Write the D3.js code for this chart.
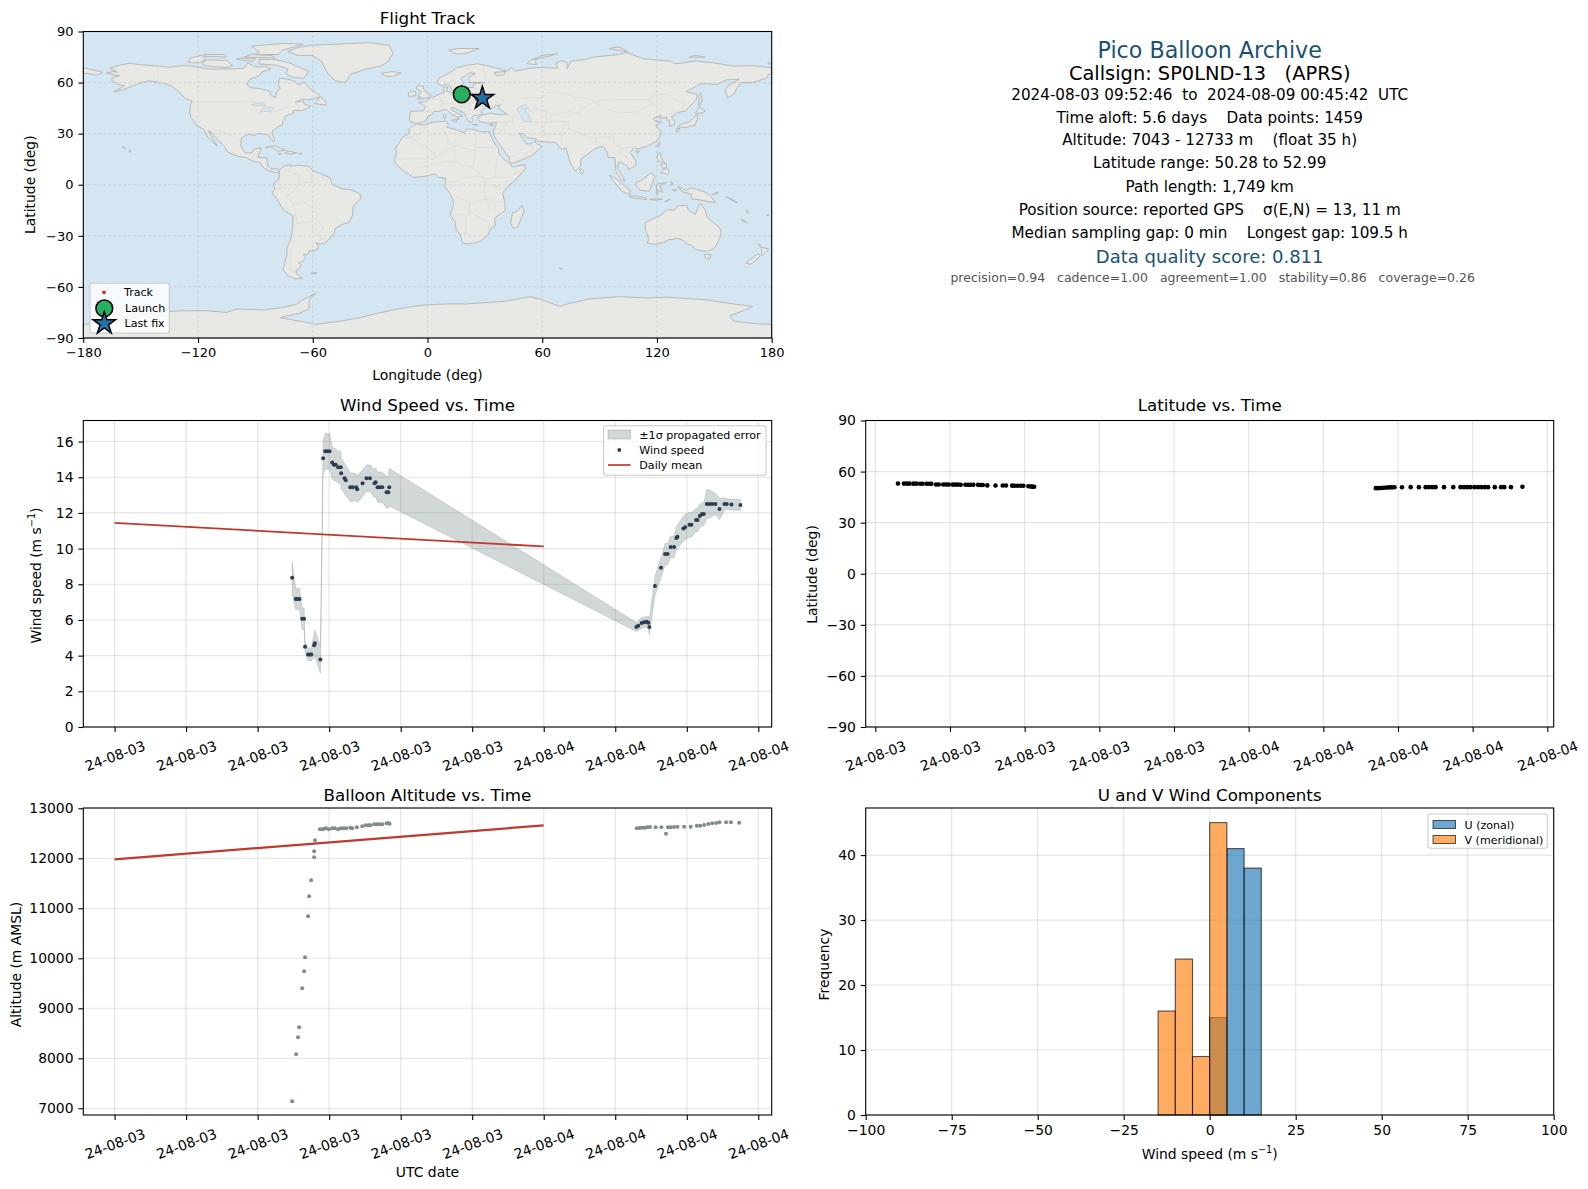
<!DOCTYPE html>
<html>
<head>
<meta charset="utf-8">
<script src="https://cdn.jsdelivr.net/npm/d3@7"></script>
<style>
  html, body { margin: 0; padding: 0; background: #fff; }
  svg { display: block; }
  text { font-family: "DejaVu Sans", sans-serif; fill: #000; }
</style>
</head>
<body>
<svg id="chart"></svg>
<script>
// ---- data (hours are counted from 24-08-03 00:00 UTC) ----
const windHours = [9.93,10.13,10.22,10.34,10.49,10.6,10.65,10.82,10.92,11,11.16,11.2,11.51,11.66,11.78,11.89,12.02,12.17,12.26,12.37,12.5,12.65,12.67,12.86,12.93,13.18,13.31,13.51,13.57,13.87,14.09,14.28,14.54,14.6,14.71,14.84,14.97,15.21,15.31,15.36,
  29.18,29.29,29.48,29.63,29.76,29.85,29.91,30.22,30.56,30.79,30.93,31.1,31.29,31.42,31.48,31.81,31.91,32.15,32.26,32.52,32.6,32.73,32.84,32.95,33.12,33.27,33.42,33.6,33.83,34.11,34.24,34.5,35];
const windSpeed = [8.36,7.18,7.18,7.18,6.07,6.07,4.5,4.07,4.07,4.07,4.58,4.69,3.78,15.06,15.45,15.45,15.45,14.82,14.7,14.7,14.56,14.56,14.22,13.94,13.83,13.44,13.44,13.44,13.33,13.66,13.94,13.94,13.66,13.72,13.44,13.44,13.44,13.16,13.16,13.44,
  5.61,5.68,5.83,5.87,5.9,5.85,5.61,7.91,8.92,9.7,9.7,10.09,10.09,10.6,10.67,11.12,11.2,11.33,11.33,11.6,11.6,11.83,11.93,11.94,12.5,12.5,12.5,12.5,12.22,12.5,12.5,12.47,12.45];
const windSigma = [0.87,0.6,0.6,0.6,0.6,0.6,0.3,0.35,0.35,0.35,0.7,0.75,0.75,0.95,1,1,1,0.9,0.9,0.9,0.9,0.9,0.85,0.85,0.85,0.8,0.8,0.75,0.75,0.75,0.75,0.75,0.8,0.8,0.85,0.85,0.85,0.9,0.9,1.05,
  0.25,0.25,0.3,0.3,0.3,0.35,0.45,0.55,0.55,0.6,0.6,0.6,0.6,0.65,0.65,0.7,0.7,0.7,0.7,0.65,0.65,0.65,0.65,0.65,0.8,0.8,0.7,0.6,0.6,0.35,0.3,0.3,0.3];
const dailyHours = [0, 24];
const dailyWind = [11.44, 10.12];
const dailyAlt = [11978, 12659];

const latHours = [9.91,10.15,10.26,10.37,10.53,10.64,10.8,10.9,11.06,11.17,11.25,11.44,11.55,11.73,11.84,11.95,12.11,12.22,12.32,12.43,12.62,12.73,12.83,12.94,13.13,13.24,13.32,13.5,13.83,14.12,14.25,14.5,14.6,14.71,14.84,14.95,15.15,15.25,15.31,15.38,
  29.11,29.19,29.27,29.35,29.43,29.54,29.65,29.76,29.86,30.16,30.51,30.84,31.11,31.24,31.38,31.51,31.85,32.22,32.51,32.65,32.78,32.92,33.08,33.22,33.35,33.49,33.62,33.89,34.14,34.27,34.54,35];
const latValues = [52.99,52.95,52.95,52.9,52.9,52.9,52.85,52.85,52.85,52.85,52.8,52.4,52.4,52.4,52.4,52.35,52.35,52.35,52.35,52.3,52.3,52.3,52.3,52.25,52.2,52.15,52.1,51.9,51.85,51.8,51.8,51.75,51.7,51.7,51.7,51.65,51.4,51.25,51.15,51.1,
  50.28,50.3,50.35,50.4,50.5,50.6,50.7,50.75,50.8,50.8,50.85,50.85,50.85,50.85,50.85,50.85,50.85,50.85,50.85,50.85,50.85,50.85,50.85,50.85,50.85,50.85,50.85,50.85,50.85,50.85,50.85,51.1];

const altHours = [9.93,10.15,10.26,10.32,10.49,10.6,10.65,10.82,10.88,10.99,11.16,11.16,11.21,11.48,11.61,11.72,11.83,11.98,12.17,12.32,12.5,12.65,12.8,12.95,13.18,13.29,13.55,13.85,14.04,14.19,14.3,14.52,14.67,14.82,14.97,15.21,15.31,15.38,
  29.2,29.35,29.5,29.64,29.79,29.94,30.26,30.58,30.84,30.95,31.1,31.29,31.48,31.85,32.22,32.56,32.75,32.97,33.2,33.42,33.64,33.83,34.2,34.47,34.93];
const altValues = [7140,8080,8420,8620,9400,9740,10020,10840,11240,11560,12020,12140,12360,12580,12580,12590,12600,12580,12600,12600,12580,12600,12600,12600,12613,12600,12620,12640,12660,12660,12660,12680,12680,12680,12680,12700,12700,12690,
  12600,12607,12613,12613,12620,12627,12620,12620,12490,12620,12620,12627,12633,12633,12633,12653,12653,12667,12687,12700,12707,12720,12720,12720,12713];

const binEdges = [-15,-10,-5,0,5,10,15];
const uCounts = [0,0,0,15,41,38];
const vCounts = [16,24,9,45,0,0];

const windTickHours = [0,4,8,12,16,20,24,28,32,36];
const latTickHours = [9,12,15,18,21,24,27,30,33,36];
const windTickLabels = ["24-08-03","24-08-03","24-08-03","24-08-03","24-08-03","24-08-03","24-08-04","24-08-04","24-08-04","24-08-04"];
const latTickLabels = ["24-08-03","24-08-03","24-08-03","24-08-03","24-08-03","24-08-04","24-08-04","24-08-04","24-08-04","24-08-04"];

const trackLon = [18.4,19,19.8,20.5,25.6,26,26.5,27.2,28,28.7];
const trackLat = [52.9,52.5,52.3,51.9,50.3,50.5,50.7,50.8,50.8,50.8];
const launchPoint = [17.9, 53.1];
const lastFix = [28.7, 50.8];

// coastlines as [lon, lat]
const northAmerica = [[-168,65.5],[-164,66.5],[-162,66],[-166,68.5],[-160,70.5],[-156,71.3],[-150,70.5],[-141,69.7],[-135,69],[-128,70],[-124,69.8],[-115,68],[-108,68],[-102,68],[-96,68.5],[-94,71.5],[-90,69],[-85,69.5],[-82,68],[-87,66],[-88,64],[-93,62],[-94.5,59],[-92.5,57],[-88,56.5],[-82.5,55],[-82,52.5],[-79.5,51.2],[-79,54.5],[-77,56.5],[-78,59],[-77.5,62.5],[-73,62],[-70,61],[-67,58.5],[-64.5,60.3],[-61.5,56.5],[-57,53],[-56,51.8],[-60,50.2],[-66,50.2],[-69,48.5],[-65,49.2],[-64.5,47.5],[-61,46],[-65.5,43.6],[-70,43.7],[-70.5,41.7],[-74,40.5],[-75.5,37.5],[-76,35],[-78,34],[-81,32],[-81.3,30],[-80,26.8],[-80.5,25.2],[-82,26.8],[-83,29],[-85,29.7],[-89,30.2],[-90,29.2],[-94,29.5],[-97.3,27.5],[-97.7,23],[-95.5,18.8],[-92,18.6],[-90.5,21],[-87,21.5],[-88,18],[-88.8,16],[-84,15.8],[-83.5,11],[-81.5,9],[-79.5,9.5],[-77.3,8.5],[-78,7.2],[-80.5,7.3],[-83,8.3],[-85.7,10],[-87.5,13],[-91.5,14],[-95,16],[-99,16.7],[-105,19.5],[-105.7,22],[-109,25.7],[-112.5,30],[-114.7,31.7],[-112.5,27.5],[-110,23],[-112,24.8],[-115,28],[-117,32.5],[-120.5,34.5],[-123.8,39.5],[-124.3,43],[-124,47],[-123,49],[-127,51],[-130,54.5],[-134,58],[-139,60],[-146,61],[-151,59.5],[-154,58],[-160,55.5],[-164,54.6],[-158.5,58],[-162,59],[-165,61],[-165,63],[-161,64]];
const southAmerica = [[-77.3,8.5],[-75.5,10.8],[-72,12],[-71.5,10.8],[-68,11.5],[-62,10.7],[-60,8.3],[-55,6],[-51,4.2],[-50,0.5],[-44.5,-2.5],[-40,-2.9],[-35.2,-5.5],[-34.9,-8],[-39,-13],[-39.2,-18],[-41,-22],[-45,-23.5],[-48.5,-26],[-48.7,-28.5],[-52,-32.5],[-54,-34.8],[-57,-34.5],[-58.4,-34],[-57,-36.5],[-57.6,-38.2],[-62,-39],[-62.5,-41],[-65,-41],[-63.7,-42.7],[-65.3,-45],[-67.5,-46],[-65.8,-47.5],[-68.8,-50.5],[-68.4,-52.5],[-65.2,-54.8],[-69,-55.3],[-73,-53.5],[-75.5,-50],[-74.5,-45],[-73.5,-41],[-73.5,-37],[-71.5,-32],[-70.5,-25],[-70.3,-18.3],[-75.5,-14.5],[-79,-8],[-81.3,-5],[-80,-2.5],[-80.5,0.5],[-78.5,2],[-77.5,4],[-77.5,7]];
const africa = [[-5.8,35.8],[-2,35],[3,36.8],[10,37.3],[11,35],[10.2,33.8],[15,32.3],[19.5,30.4],[20.2,32.7],[23,32.7],[29,31],[32.3,31.2],[32.6,29.8],[34,26.5],[35.5,23.8],[37.2,21],[37.4,18.5],[39.5,15.3],[43.2,12.3],[44.5,10.5],[51.2,11.8],[50.8,9],[47.5,4.5],[42,-1],[39.3,-5],[40.5,-11],[40.7,-15],[35,-19.8],[35.5,-24],[32.8,-26],[32,-29],[28,-33],[25,-34],[20,-34.8],[18.3,-34],[17,-29],[15,-26.5],[14.5,-22],[11.8,-17.5],[13.7,-11],[12.2,-6],[9,-1],[9.6,3.8],[6,4.3],[4,6.3],[-2,4.8],[-7.5,4.4],[-13,8.5],[-16.7,12.5],[-17.4,14.7],[-16,19],[-17,21],[-13,27.7],[-9.8,30],[-9.5,33]];
const eurasia = [[-5.6,36],[-9,37],[-9.5,38.8],[-8.8,43.2],[-2,43.4],[-1.2,46],[-4.7,48.4],[-1.5,48.7],[1.5,50.8],[4,52],[7,53.5],[8.7,54],[8.2,57],[10.5,57.7],[10,55],[12,54.2],[14.3,53.9],[18.5,54.7],[21,55],[21,57],[24,57.2],[24,59.3],[30,60],[25,60.2],[22,60],[21.5,63],[25,65.3],[22,65.7],[17.5,62.5],[18.8,60],[16.5,57],[14.3,55.5],[13,55.4],[11.5,58.5],[10.5,59.3],[7,58],[5,60],[6,62.5],[12,66],[15,68.5],[20,70],[26,71],[31,70],[41,67],[40,64.7],[36,64],[35,66],[41,66.5],[44,68.5],[46,66.8],[54,68.5],[60,68.8],[68,68.5],[67,71],[70,73],[73,71.5],[73,68],[75,72.5],[82,73.5],[87,75],[100,76.5],[104,77.7],[113,74],[127,72.5],[130,71],[140,72.7],[150,71.5],[160,69.7],[170,69.9],[178,69],[180,68.7],[180,65],[178,64.5],[177,62.5],[170,60],[164,60],[162,57],[160,53],[156.8,51],[155.7,56],[157,58],[163,62],[156,61.5],[152,59],[143,59.3],[135.3,54.7],[141,53],[140.5,50],[135,43.5],[130.7,42.3],[127.5,39.8],[129.4,37],[129,35.1],[126.5,34.4],[126.7,37.7],[125,38],[125,39.6],[121.3,39],[122,40.7],[118,39],[119,37.2],[122.5,37],[119.3,35],[122,31],[121.8,28.5],[119,25],[114,22.3],[110,21],[108,21.7],[106,19],[109,14],[109,11.5],[105,8.7],[105,10.5],[101,13.5],[100,13.4],[99.3,10],[103.5,2],[101,3],[98.5,8],[98,16],[94.5,16],[94,19],[91.8,22.5],[89,21.8],[86.8,20.5],[82,16.5],[80.2,15],[80,11],[77.5,8],[75,12],[73,19],[72.5,21.5],[70,20.8],[68.8,22.5],[67,24.8],[61.5,25.1],[57.5,25.7],[56.5,27],[52,27.7],[50,30],[48,30],[50,26.5],[51.3,25.2],[51.5,24],[54,24],[56.3,26],[56.7,24.2],[59.8,22.5],[55,17.5],[52,15.7],[45,12.8],[43.3,12.7],[42.7,16],[39,21.5],[35.2,28],[34.5,29.5],[34.5,31.5],[35.8,35],[36,36.8],[32,36.1],[30,36.5],[27.3,37],[26.3,39.5],[29,41],[33,42],[38,41],[41.5,41.5],[37,45],[38.5,47],[35,46],[33.7,44.5],[33,46],[30.7,46.5],[28,43],[28.5,41.5],[26,40.8],[24,40.7],[23,39],[24,38],[22.8,36.5],[21.3,37.5],[19.5,41.5],[19,42.3],[14,45],[12.3,45.3],[12.5,44],[16,41.8],[18.5,40.2],[16.6,40],[16,38],[15.7,40],[12.5,41.4],[10.2,43.8],[8.8,44.4],[6,43],[3.3,43.1],[3,41.8],[0,39.8],[-0.5,38],[-2,36.8]];
const australia = [[113.7,-22.5],[116.8,-20.5],[122,-18],[125,-14.8],[129,-15],[130.8,-12.3],[135.5,-12],[136.5,-15],[140,-17.5],[141.7,-12.7],[142.6,-10.8],[145.3,-15],[146.3,-19],[149.5,-22.3],[153,-25.5],[153.5,-28.5],[152.5,-32.5],[150,-37.3],[146.3,-39],[143.5,-38.8],[140,-38],[138,-35.5],[135.7,-34.8],[134,-32.8],[131,-31.5],[126,-32.3],[123.5,-33.9],[118.5,-35],[115,-34.3],[115.7,-31.5],[114,-26.5]];
const antarctica = [[-180,-82],[-170,-81],[-155,-79],[-150,-77],[-145,-75.5],[-130,-74],[-115,-74],[-105,-75],[-100,-73],[-85,-73.5],[-75,-72],[-68,-70],[-66,-68],[-58,-63.5],[-60,-65],[-62,-68],[-62,-73],[-67,-75.5],[-77,-78],[-65,-80.5],[-58,-82],[-45,-80],[-35,-78],[-28,-76],[-18,-73.5],[-8,-71.5],[0,-70.5],[10,-70],[20,-70],[33,-69],[40,-68.5],[53.5,-65.7],[60,-67.5],[69,-71.5],[75,-69.5],[85,-67],[100,-65.7],[115,-66.5],[125,-66],[145,-67.5],[160,-70],[170,-71.5],[165,-74],[158,-77],[160,-80],[170,-81.5],[180,-82],[180,-90],[-180,-90]];
const islands = [
  [[-73,78.3],[-68,80.5],[-60,82],[-45,82.7],[-30,83.5],[-20,81.8],[-18,77],[-21,72],[-25,69.5],[-32,68],[-40,65],[-43,60],[-48,61],[-52,65],[-54,69],[-55,72],[-60,76],[-68,76]],
  [[-80,73.7],[-72,71.5],[-67,69],[-62,66.5],[-65,62.5],[-70,63],[-74,65],[-73,68],[-78,70],[-88,71],[-88,73.5]],
  [[-117,70],[-105,68.8],[-102,70],[-105,73],[-115,73.3],[-118,71.5]],
  [[-90,76.5],[-78,76.5],[-76,79],[-65,82.5],[-75,83],[-92,81.5],[-88,78]],
  [[-125,72],[-120,71.5],[-116,73.5],[-118,76],[-124,74.5]],
  [[-117,75.5],[-105,75],[-106,76.5],[-117,76.5]],
  [[-96,75],[-80,74.5],[-81,75.8],[-92,76.5]],
  [[-100,73.8],[-92,72.5],[-90,74],[-98,74.5]],
  [[-59,47.7],[-53,46.7],[-53,48.5],[-56,51.5]],
  [[-85,21.8],[-80,23],[-74.2,20.2],[-78,19.8],[-82,22.5]],
  [[-74.4,18.5],[-73,19.9],[-68.4,18.6],[-71,18]],
  [[-78.3,18.4],[-76.3,18.2],[-77.5,17.8]],
  [[-67.2,18.5],[-65.7,18.3],[-66.8,17.9]],
  [[-156,20.5],[-155,19.6],[-155.8,19]],
  [[-159.8,22.2],[-157.7,21.5],[-158,21.2]],
  [[-61,-52],[-58,-51.5],[-58,-52.2],[-60.5,-52.3]],
  [[-180,68.7],[-175,67.5],[-170,66],[-173,64.3],[-178,65.5],[-180,65]],
  [[49.3,-12],[50.5,-15.5],[47.2,-24.8],[45,-25.5],[43.5,-23],[44.4,-16.5],[47,-15.5]],
  [[130.9,34],[135,33.6],[140,35],[141,38],[141.5,41],[140,40.5],[137,37],[132.5,35.5]],
  [[140,42],[142,45.4],[145.3,43.3],[143,42]],
  [[130,33],[132,33],[131,31],[130,31.5]],
  [[142,46],[143.5,49],[143,54],[142,53],[142,48]],
  [[80,9.7],[81.8,7.5],[80.5,6],[79.8,8]],
  [[121,25],[121.8,24.8],[120.8,22],[120.1,23]],
  [[109,20],[111,19.7],[109.6,18.2]],
  [[120.5,18.5],[122,18.3],[122,16],[124,13],[121,13.7],[120,16]],
  [[122,7],[123.5,8.6],[125.5,9.8],[126.5,7],[125.3,5.7],[124,6.8]],
  [[122,11.8],[125,12.5],[125,10.2],[123,9.5]],
  [[109,1.5],[111.5,2.5],[113.5,4],[117,7],[119,5],[117.7,1],[116,-3.8],[111,-3.2],[109,-0.5]],
  [[95.3,5.6],[98,4],[103.5,-1],[106,-3],[105.8,-5.8],[102,-4],[100,-1.5],[97,2.5]],
  [[105.3,-6.7],[108.5,-6.5],[114.5,-7.8],[114.5,-8.7],[106.5,-7.5]],
  [[119.5,-5.5],[120,0.5],[124.5,1.2],[121.5,-0.7],[123,-4.5],[120.5,-3],[120.5,-5.5]],
  [[131,-0.8],[135,-3.3],[138,-1.7],[145,-4.2],[147.8,-6.5],[150.7,-10.5],[147,-10],[143,-9],[138,-8.3],[138,-5.5],[133,-4]],
  [[124,-10],[127,-8.4],[125,-9.5]],
  [[116,-8.5],[120,-8.3],[122.8,-8.4],[119,-9]],
  [[127.5,1.8],[128.5,0.5],[127.8,-0.5]],
  [[128,-3],[130.5,-3.2],[129,-3.6]],
  [[149,-5.5],[152,-4.2],[151.5,-5.5]],
  [[156,-7],[160,-9],[162,-10.5],[159,-9]],
  [[164,-20],[167,-22],[165,-21.7]],
  [[167,-15],[168,-16.5],[167,-16]],
  [[177.5,-17.5],[178.6,-18],[177.5,-18.2]],
  [[144.8,-40.8],[148.3,-41],[147.8,-43.2],[146,-43.6],[145.3,-42.5]],
  [[172.8,-34.5],[175,-36.8],[178.3,-37.7],[176.9,-39.5],[175.2,-41.5],[174.7,-39.5],[174.7,-37.5]],
  [[172.7,-40.6],[174.2,-41.6],[171,-45],[169,-46.7],[166.5,-46],[168.5,-44],[171,-42]],
  [[69,-49],[70.5,-49.3],[69.5,-49.7]],
  [[-5.5,50.2],[1.3,51.2],[1.7,52.7],[-0.2,54],[-2,56],[-2,57.7],[-5,58.6],[-6,56.5],[-3,54.5],[-4.5,53.2],[-5,51.7],[-3,51.3]],
  [[-10,52],[-6.2,52.2],[-6,54.5],[-8,55.2],[-10,54]],
  [[-24,65.5],[-18,66.5],[-14,65.5],[-18.5,63.4],[-22.5,64]],
  [[11,79],[16,80],[27,80],[20,77],[15,76.8]],
  [[52,71],[57,70.7],[56,73.5],[68,76.8],[60,76],[54,73]],
  [[95,80],[100,79],[105,78],[100,81]],
  [[137,75],[145,75],[140,76]],
  [[12.5,38],[15.5,38.2],[15,36.7]],
  [[8.2,41],[9.7,41],[9.5,39],[8.5,39]],
  [[23.5,35.5],[26.3,35.2],[24.8,34.9]],
  [[32.3,35],[34.5,35.6],[33.8,34.7]],
  [[178,71.5],[180,71],[178.5,70.8]]
];
const lakes = [
  [[47,45],[51,47],[53,45],[51,44],[53,41],[54,37],[50,37.3],[49,40],[47.5,43]],
  [[-92,47],[-86,48.5],[-84.7,46.5],[-88,46.5]],
  [[-87.8,42],[-85.5,45.8],[-80,45.5],[-82,43],[-86.3,43]]
];
const borders = [
  [[-141,69.7],[-141,60.3],[-135,59]],[[-123,49],[-95,49],[-88,48],[-83,45.5],[-82.5,42.5],[-79,43],[-75,45],[-70,46],[-67.5,47],[-67,45]],
  [[-117,32.5],[-108,31.5],[-104,29.5],[-100,28],[-97.3,26]],[[-92,14.5],[-91,17.5],[-89,18]],
  [[-72,12],[-72.5,7.5],[-67,6],[-67,1.5],[-70,-4],[-74,-7],[-70,-11],[-69,-17],[-70.3,-18.3]],
  [[-60,8.3],[-61,5],[-60,2],[-65,1],[-67,1.5]],[[-69,-11],[-65,-10],[-60,-13.5],[-58,-17],[-58,-20],[-54.5,-25.5],[-57.7,-30],[-53,-33.5]],
  [[-69,-17],[-68,-23],[-66,-22],[-62.5,-22],[-58,-20]],[[-70,-29],[-70,-34],[-71.5,-40],[-72,-50],[-68.5,-52.3]],[[-80.3,-3.4],[-75.5,-1],[-78.5,1.5]],
  [[-55,6],[-54,2.3],[-51,4.2]],[[-2,35],[-1,32],[-8.7,27.7],[-13,27.7]],
  [[-8.7,27.7],[3,19],[4,16],[14,23],[25,20],[25,31.5]],[[25,22],[36.9,22]],[[10,37],[8,33],[9.5,30],[12,23.5]],[[14,23],[15,13],[10,13.5],[3,12],[-5,10]],
  [[-17,15],[-5,15.5],[3,15],[4,19]],[[-5,10],[-8,7.5],[-8,4.5]],[[25,20],[24,10],[30,3.5],[35,4.5],[42,4],[47.5,8],[43,11]],[[15,13],[24,10]],
  [[35,4.5],[36,12],[37,17.5]],[[30,3.5],[29.5,-4.5],[30,-8.5],[22,-11],[13.5,-5.5]],[[9.6,2],[16,2],[18,4],[27,5],[30,3.5]],[[34,-1],[41,-1.5]],[[30,-8.5],[40.5,-10.5]],
  [[22,-11],[22,-18],[12,-17.3]],[[20,-18],[20,-28.5],[17,-28.7]],[[25,-18],[32.5,-22],[32,-26.5]],[[30,-8.5],[33,-14],[30,-16],[25,-18]],[[35,-11.5],[35,-16]],
  [[-1.8,43.3],[3,42.5]],[[-9,42],[-7,39],[-7.4,37.2]],[[2.5,51],[8,49],[7.5,47.5],[6,43.8]],[[7,53.5],[6,51],[8,49]],[[7.5,47.5],[13,47.5],[13,48.8],[15,51],[14.3,53.9]],
  [[15,51],[19,49.5],[24,48.5],[24,51],[23.5,54],[21,55]],[[24,51],[32,52.2],[40,50],[38.5,47]],[[24,48.5],[30,45.5]],[[28,56],[31,53],[32,52.2]],[[24,57.2],[28,56],[28,59.5]],
  [[30,60],[30,64],[29,69.5]],[[13,48],[17,48],[22.5,48],[22,44],[28.5,43.7]],[[14,46],[19,46],[22,44]],[[20,42],[23,41.3],[26,41.5]],[[26,39.5],[26.5,41.8]],[[12,66],[15,64],[12,61],[11.5,59]],
  [[20,69],[24,66]],[[36,36.8],[42,37],[44.5,37.5],[44.5,39.5],[41.5,41.5]],[[35.8,33],[39,32],[42,37]],[[39,32],[44,29],[48,29.5]],[[36,29.5],[39,32]],[[43,16.5],[52,19],[55,20],[55,22],[51.5,24]],[[52,15.7],[52,19]],
  [[48,30],[46,33],[44.5,37.5]],[[44.5,39.5],[48,38.5]],[[54,37],[61,36.5],[61,30],[63,27],[61.5,25.1]],[[61,36.5],[66,37.3],[74,37],[71,34],[70,30],[66,29.5],[61,29.5]],[[74,37],[74,33],[70,28],[70,24]],
  [[74,33],[80,30],[88,27],[92,28],[97,28]],[[88,27],[89,22]],[[92,24],[92,21]],[[97,28],[98,24],[101,21],[104,22],[108,21.7]],[[101,21],[100,18],[102,18],[105,15],[107,12]],[[98,16],[100,18]],[[102,12],[105,10.8]],
  [[47,42],[50,45],[52,42]],[[50,51],[60,51],[62,54],[72,54],[77,51],[83,51],[87,49]],[[52,42],[56,45],[62,43],[66,41],[70,42],[74,43],[80,42]],[[62,43],[62,36]],[[80,42],[80,45],[85,47],[87,49]],
  [[87,49],[98,50],[106,50],[115,50],[120,53],[126,53],[132,48],[135,48],[131,43]],[[87,49],[92,45],[100,42],[110,43],[116,47],[119,47],[115,50]],[[124,40],[128,42],[130.7,42.3]],[[125,38],[128.5,38.5]]
];

const landParts = [northAmerica, southAmerica, africa, eurasia, australia, antarctica, ...islands];

// ---- layout ----
const width = 1588, height = 1189;
const svg = d3.select("#chart").attr("width", width).attr("height", height);

const colL = [83.3, 771.7], colR = [865.7, 1553.7];
const row1 = [338, 31.5], row2 = [727, 420.5], row3 = [1115, 808];

const hoursX = d3.scaleLinear().domain([-1.75, 36.75]).range(colL);
const hoursXLat = d3.scaleLinear().domain([8.614, 36.256]).range(colR);

function panel(xs, ys, title, titleY) {
  const g = svg.append("g");
  g.append("text").attr("x", (xs.range()[0] + xs.range()[1]) / 2).attr("y", titleY)
    .attr("text-anchor", "middle").attr("font-size", 16.7).text(title);
  return g;
}

function grid(g, xs, ys, xVals, yVals) {
  const gg = g.append("g").attr("stroke", "#b0b0b0").attr("stroke-opacity", 0.35).attr("stroke-width", 1.1);
  xVals.forEach(v => gg.append("line").attr("x1", xs(v)).attr("x2", xs(v)).attr("y1", ys.range()[0]).attr("y2", ys.range()[1]));
  yVals.forEach(v => gg.append("line").attr("y1", ys(v)).attr("y2", ys(v)).attr("x1", xs.range()[0]).attr("x2", xs.range()[1]));
}

function frame(g, xs, ys, xVals, yVals, xFmt, rotate, fontSize = 13.9) {
  const [x0, x1] = xs.range(), [y0, y1] = ys.range();
  const ax = g.append("g").attr("transform", `translate(0,${y0})`)
    .call(d3.axisBottom(xs).tickValues(xVals).tickFormat(xFmt).tickSize(4.9).tickPadding(4.9));
  const ay = g.append("g").attr("transform", `translate(${x0},0)`)
    .call(d3.axisLeft(ys).tickValues(yVals).tickFormat(d3.format("d")).tickSize(4.9).tickPadding(4.9));
  [ax, ay].forEach(a => {
    a.selectAll(".domain").remove();
    a.selectAll("text").attr("font-size", fontSize).attr("font-family", "DejaVu Sans");
    a.selectAll("line").attr("stroke-width", 1.1);
  });
  if (rotate) {
    ax.selectAll("text").attr("y", 0).attr("dy", "0.35em").attr("text-anchor", "middle")
      .attr("transform", "translate(0,29) rotate(-20)");
  }
  g.append("rect").attr("x", x0).attr("y", y1).attr("width", x1 - x0).attr("height", y0 - y1)
    .attr("fill", "none").attr("stroke", "#000").attr("stroke-width", 1.1);
}

function axisLabel(g, text, x, y, vertical, sup) {
  const t = g.append("text").attr("text-anchor", "middle").attr("font-size", 13.9)
    .attr("transform", vertical ? `translate(${x},${y}) rotate(-90)` : `translate(${x},${y})`);
  t.append("tspan").attr("dy", "0.35em").text(text);
  if (sup) {
    t.append("tspan").attr("font-size", 9.7).attr("dy", "-0.65em").text(sup);
    t.append("tspan").attr("dy", "0.45em").text(")");
  }
}

function legendBox(g, x, y, w, h) {
  g.append("rect").attr("x", x).attr("y", y).attr("width", w).attr("height", h).attr("rx", 2.5)
    .attr("fill", "#fff").attr("fill-opacity", 0.8).attr("stroke", "#ccc").attr("stroke-width", 1.1);
}

function legendText(g, text, x, y) {
  g.append("text").attr("x", x).attr("y", y).attr("dy", "0.35em").attr("font-size", 11.1).text(text);
}

// ---- flight track map ----
const lonX = d3.scaleLinear().domain([-180, 180]).range(colL);
const latY = d3.scaleLinear().domain([-90, 90]).range(row1);
const mapLine = d3.line().x(d => lonX(d[0])).y(d => latY(d[1]));
const mapTicksX = d3.range(-180, 181, 60), mapTicksY = d3.range(-90, 91, 30);

const mapG = panel(lonX, latY, "Flight Track", 23.5);
mapG.append("rect").attr("x", colL[0]).attr("y", row1[1]).attr("width", colL[1] - colL[0]).attr("height", row1[0] - row1[1]).attr("fill", "#d4e6f1");
mapG.append("g").selectAll("path").data(landParts).enter().append("path")
  .attr("d", d => mapLine(d) + "Z").attr("fill", "#e8e8e4").attr("stroke", "#b8b8b8").attr("stroke-width", 1).attr("stroke-linejoin", "round");
mapG.append("g").selectAll("path").data(lakes).enter().append("path")
  .attr("d", d => mapLine(d) + "Z").attr("fill", "#d4e6f1").attr("stroke", "#c4c4c4").attr("stroke-width", 0.6);
mapG.append("g").selectAll("path").data(borders).enter().append("path")
  .attr("d", mapLine).attr("fill", "none").attr("stroke", "#dcdcd8").attr("stroke-width", 0.8);
const mapGrid = mapG.append("g").attr("stroke", "#808080").attr("stroke-opacity", 0.22).attr("stroke-width", 0.8).attr("stroke-dasharray", "3,2");
mapTicksX.slice(1, -1).forEach(v => mapGrid.append("line").attr("x1", lonX(v)).attr("x2", lonX(v)).attr("y1", row1[0]).attr("y2", row1[1]));
mapTicksY.slice(1, -1).forEach(v => mapGrid.append("line").attr("y1", latY(v)).attr("y2", latY(v)).attr("x1", colL[0]).attr("x2", colL[1]));

mapG.append("g").selectAll("circle").data(trackLon).enter().append("circle")
  .attr("cx", d => lonX(d)).attr("cy", (d, i) => latY(trackLat[i])).attr("r", 1.9).attr("fill", "#d73027");

const starPath = d3.symbol().type(d3.symbolStar).size(155);
const greenMark = (g, x, y) => g.append("circle").attr("cx", x).attr("cy", y).attr("r", 8.4)
  .attr("fill", "#27ae60").attr("stroke", "#000").attr("stroke-width", 1.5);
const blueStar = (g, x, y) => g.append("path").attr("d", starPath).attr("transform", `translate(${x},${y})`)
  .attr("fill", "#2471a8").attr("stroke", "#000").attr("stroke-width", 1.5);
greenMark(mapG, lonX(launchPoint[0]), latY(launchPoint[1]));
blueStar(mapG, lonX(lastFix[0]), latY(lastFix[1]));

frame(mapG, lonX, latY, mapTicksX, mapTicksY, d3.format("d"), false, 13);
axisLabel(mapG, "Longitude (deg)", 427.5, 374.7);
axisLabel(mapG, "Latitude (deg)", 30.5, 184.7, true);

legendBox(mapG, 90, 283.3, 79.3, 49.7);
mapG.append("circle").attr("cx", 104).attr("cy", 292.3).attr("r", 1.9).attr("fill", "#d73027");
greenMark(mapG, 104.3, 308.3);
blueStar(mapG, 104.3, 323.5);
legendText(mapG, "Track", 124, 292.3);
legendText(mapG, "Launch", 125, 308);
legendText(mapG, "Last fix", 124.5, 323);

// ---- header text ----
const headerLines = [
  { text: "Pico Balloon Archive", y: 50.6, size: 22.2, fill: "#1a5276" },
  { text: "Callsign: SP0LND-13   (APRS)", y: 73, size: 19.4 },
  { text: "2024-08-03 09:52:46  to  2024-08-09 00:45:42  UTC", y: 94.2, size: 15.2 },
  { text: "Time aloft: 5.6 days    Data points: 1459", y: 117.5, size: 15.2 },
  { text: "Altitude: 7043 - 12733 m    (float 35 h)", y: 139.8, size: 15.2 },
  { text: "Latitude range: 50.28 to 52.99", y: 163, size: 15.2 },
  { text: "Path length: 1,749 km", y: 186.4, size: 15.2 },
  { text: "Position source: reported GPS    σ(E,N) = 13, 11 m", y: 209.6, size: 15.2 },
  { text: "Median sampling gap: 0 min    Longest gap: 109.5 h", y: 233, size: 15.2 },
  { text: "Data quality score: 0.811", y: 257, size: 18, fill: "#1a5276" },
  { text: "precision=0.94   cadence=1.00   agreement=1.00   stability=0.86   coverage=0.26", y: 277.5, size: 12.5, fill: "#555", shift: 3 }
];
svg.append("g").selectAll("text").data(headerLines).enter().append("text")
  .attr("x", d => 1209.7 + (d.shift || 0)).attr("y", d => d.y).attr("dy", "0.35em").attr("text-anchor", "middle")
  .attr("font-size", d => d.size).style("fill", d => d.fill || "#000").style("white-space", "pre").text(d => d.text);

// ---- wind speed ----
const speedY = d3.scaleLinear().domain([0, 17.18]).range(row2);
const speedTicks = d3.range(0, 17, 2);
const tickLabel = labels => (d, i) => labels[i];

const windG = panel(hoursX, speedY, "Wind Speed vs. Time", 411);
grid(windG, hoursX, speedY, windTickHours, speedTicks);
const band = d3.area().x((d, i) => hoursX(windHours[i])).y0((d, i) => speedY(d - windSigma[i])).y1((d, i) => speedY(d + windSigma[i]));
windG.append("path").attr("d", band(windSpeed)).attr("fill", "#7f8c8d").attr("fill-opacity", 0.35).attr("stroke", "#7f8c8d").attr("stroke-opacity", 0.35).attr("stroke-width", 0.8);
windG.append("path").datum(dailyWind)
  .attr("d", d3.line().x((d, i) => hoursX(dailyHours[i])).y(d => speedY(d)))
  .attr("fill", "none").attr("stroke", "#c0392b").attr("stroke-width", 1.8);
windG.append("g").selectAll("circle").data(windSpeed).enter().append("circle")
  .attr("cx", (d, i) => hoursX(windHours[i])).attr("cy", d => speedY(d)).attr("r", 2).attr("fill", "#2c3e50");
frame(windG, hoursX, speedY, windTickHours, speedTicks, tickLabel(windTickLabels), true);
axisLabel(windG, "Wind speed (m s", 36.5, 575.5, true, "−1");

legendBox(windG, 603.5, 425.7, 162.5, 49.5);
windG.append("rect").attr("x", 608).attr("y", 430).attr("width", 22.5).attr("height", 9).attr("fill", "#7f8c8d").attr("fill-opacity", 0.35).attr("stroke", "#7f8c8d").attr("stroke-opacity", 0.35);
windG.append("circle").attr("cx", 619.3).attr("cy", 450).attr("r", 1.9).attr("fill", "#2c3e50");
windG.append("line").attr("x1", 608).attr("x2", 630.5).attr("y1", 465).attr("y2", 465).attr("stroke", "#c0392b").attr("stroke-width", 1.7);
legendText(windG, "±1σ propagated error", 639.3, 435);
legendText(windG, "Wind speed", 639.3, 450);
legendText(windG, "Daily mean", 639.3, 465.5);

// ---- latitude ----
const latPanelY = d3.scaleLinear().domain([-90, 90]).range(row2);
const latTicks = d3.range(-90, 91, 30);
const latG = panel(hoursXLat, latPanelY, "Latitude vs. Time", 411);
grid(latG, hoursXLat, latPanelY, latTickHours, latTicks);
latG.append("g").selectAll("circle").data(latValues).enter().append("circle")
  .attr("cx", (d, i) => hoursXLat(latHours[i])).attr("cy", d => latPanelY(d)).attr("r", 2.3).attr("fill", "#000");
frame(latG, hoursXLat, latPanelY, latTickHours, latTicks, tickLabel(latTickLabels), true);
axisLabel(latG, "Latitude (deg)", 812, 574.5, true);

// ---- altitude ----
const altY = d3.scaleLinear().domain([6866, 13006]).range(row3);
const altTicks = d3.range(7000, 13001, 1000);
const altG = panel(hoursX, altY, "Balloon Altitude vs. Time", 801);
grid(altG, hoursX, altY, windTickHours, altTicks);
altG.append("path").datum(dailyAlt)
  .attr("d", d3.line().x((d, i) => hoursX(dailyHours[i])).y(d => altY(d)))
  .attr("fill", "none").attr("stroke", "#c0392b").attr("stroke-width", 2.2);
altG.append("g").selectAll("circle").data(altValues).enter().append("circle")
  .attr("cx", (d, i) => hoursX(altHours[i])).attr("cy", d => altY(d)).attr("r", 2).attr("fill", "#7f8c8d");
frame(altG, hoursX, altY, windTickHours, altTicks, tickLabel(windTickLabels), true);
axisLabel(altG, "UTC date", 427.5, 1172);
axisLabel(altG, "Altitude (m AMSL)", 16, 964.5, true);

// ---- U / V histogram ----
const histX = d3.scaleLinear().domain([-100, 100]).range(colR);
const histY = d3.scaleLinear().domain([0, 47.25]).range(row3);
const histTicksX = d3.range(-100, 101, 25), histTicksY = d3.range(0, 41, 10);
const histG = panel(histX, histY, "U and V Wind Components", 801);
grid(histG, histX, histY, histTicksX, histTicksY);

function bars(counts, color) {
  histG.append("g").selectAll("rect").data(counts.map((c, i) => ({ c, i })).filter(d => d.c > 0)).enter().append("rect")
    .attr("x", d => histX(binEdges[d.i])).attr("width", d => histX(binEdges[d.i + 1]) - histX(binEdges[d.i]))
    .attr("y", d => histY(d.c)).attr("height", d => histY(0) - histY(d.c))
    .attr("fill", color).attr("fill-opacity", 0.65).attr("stroke", "#000").attr("stroke-opacity", 0.65).attr("stroke-width", 1.1);
}
bars(uCounts, "#1f77b4");
bars(vCounts, "#ff7f0e");
frame(histG, histX, histY, histTicksX, histTicksY, d3.format("d"));
axisLabel(histG, "Wind speed (m s", 1209.7, 1154.6, false, "−1");
axisLabel(histG, "Frequency", 824.5, 964.5, true);

legendBox(histG, 1428, 814, 119.3, 34.3);
histG.append("rect").attr("x", 1433).attr("y", 820.5).attr("width", 22.5).attr("height", 8).attr("fill", "#1f77b4").attr("fill-opacity", 0.65).attr("stroke", "#000").attr("stroke-opacity", 0.65);
histG.append("rect").attr("x", 1433).attr("y", 835.5).attr("width", 22.5).attr("height", 8).attr("fill", "#ff7f0e").attr("fill-opacity", 0.65).attr("stroke", "#000").attr("stroke-opacity", 0.65);
legendText(histG, "U (zonal)", 1464.5, 825);
legendText(histG, "V (meridional)", 1464.5, 840);
</script>
</body>
</html>
